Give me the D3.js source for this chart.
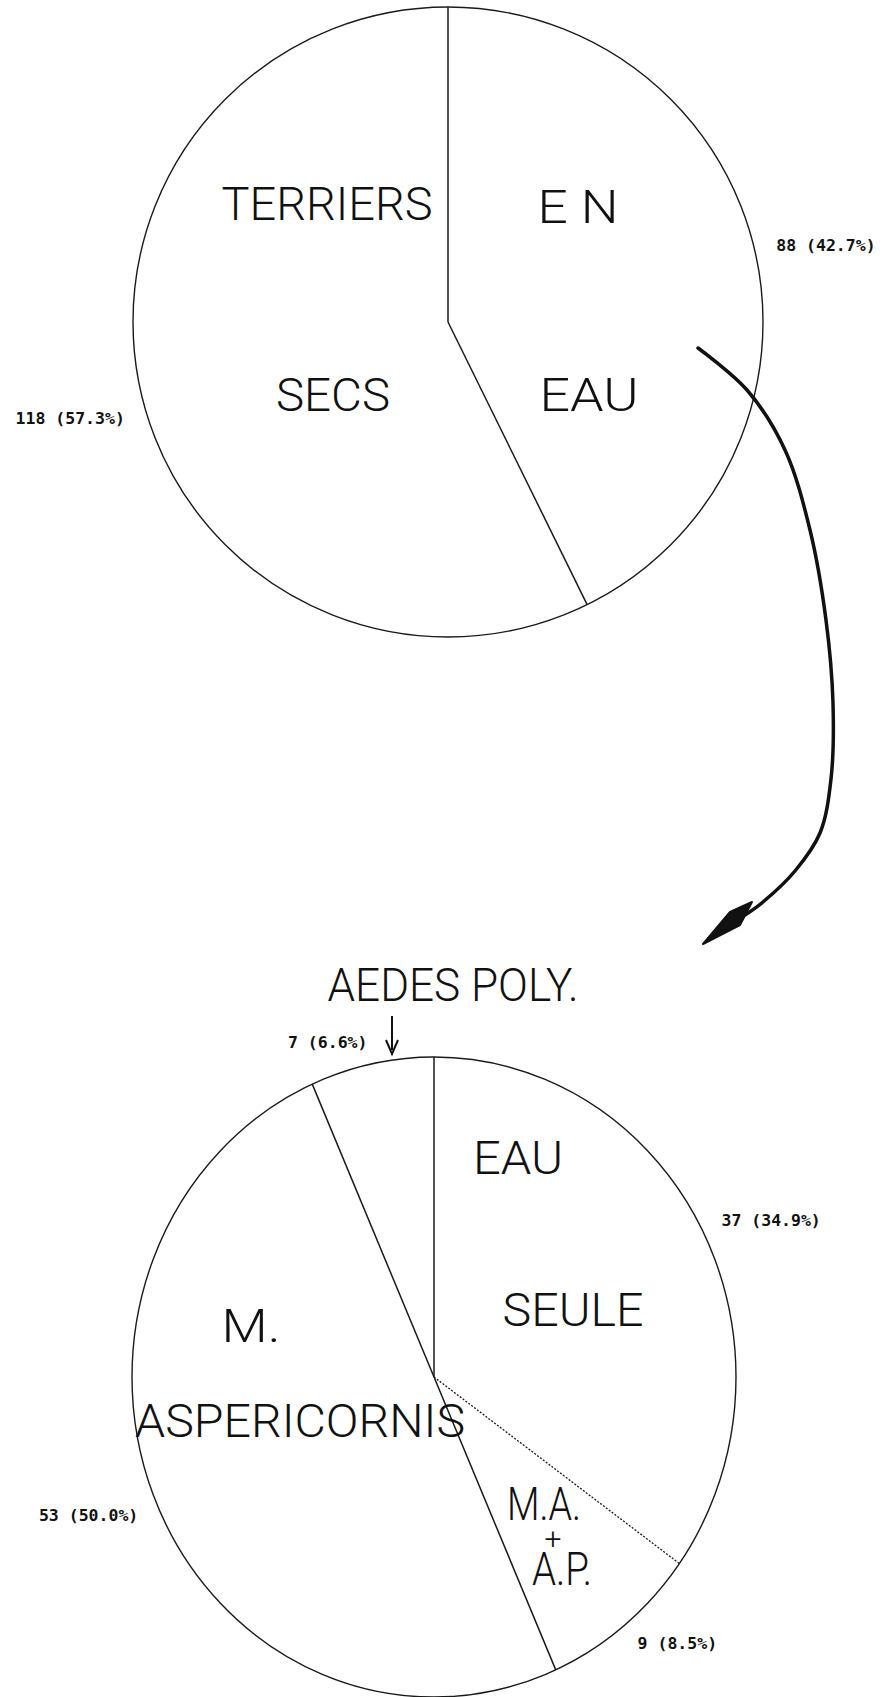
<!DOCTYPE html>
<html>
<head>
<meta charset="utf-8">
<script src="https://cdn.jsdelivr.net/npm/d3@7"></script>
<style>
  html, body { margin: 0; padding: 0; background: #fff; }
  svg { display: block; }
  .big { font-family: Roboto, "Liberation Sans", sans-serif; font-weight: 300; fill: #111; }
  .val { font-family: "DejaVu Sans Mono", monospace; font-weight: bold; font-size: 16.5px; fill: #111; }
</style>
</head>
<body>
<svg id="chart" width="882" height="1697"></svg>
<script>
// top pie : burrows with / without water
var topCategories = ['EN EAU', 'TERRIERS SECS'];
var topValues = [88, 118];

// bottom pie : what lives in the wet burrows
var bottomCategories = ['EAU SEULE', 'M.A. + A.P.', 'M. ASPERICORNIS', 'AEDES POLY.'];
var bottomValues = [37, 9, 53, 7];

var svg = d3.select('#chart');
var pct = d3.format('.1%');

// layout (pie centre, radii, where the words go)
var pies = [
  {
    cats: topCategories, vals: topValues,
    cx: 448, cy: 322, rx: 315, ry: 315,
    lines: [
      [ {t: 'E N', dx: 130, dy: -99, w: 81}, {t: 'EAU', dx: 141, dy: 89, w: 99} ],
      [ {t: 'TERRIERS', dx: -121, dy: -102, w: 211}, {t: 'SECS', dx: -115, dy: 89, w: 114} ]
    ],
    valAngle: [null, 253.5],
    dotted: []
  },
  {
    cats: bottomCategories, vals: bottomValues,
    cx: 434, cy: 1377, rx: 302, ry: 320,
    lines: [
      [ {t: 'EAU', dx: 84, dy: -203, w: 90}, {t: 'SEULE', dx: 139, dy: -51, w: 141} ],
      [ {t: 'M.A.', dx: 110, dy: 143, w: 74}, {t: '+', dx: 119, dy: 172, fs: 30}, {t: 'A.P.', dx: 128, dy: 208, w: 60} ],
      [ {t: 'M.', dx: -183, dy: -35, w: 59}, {t: 'ASPERICORNIS', dx: -134, dy: 60, w: 330} ],
      [ {t: 'AEDES POLY.', dx: 19, dy: -376, w: 251} ]
    ],
    valAngle: [null, null, null, null],
    dotted: [1]
  }
];

var pie = d3.pie().sort(null).value(function(d) { return d; });

pies.forEach(function(p) {
  var arcs = pie(p.vals);
  var g = svg.append('g').attr('transform', 'translate(' + p.cx + ',' + p.cy + ')');
  var sy = p.ry / p.rx;

  // slices, drawn on a circle then squashed to the ellipse of the scan
  var arc = d3.arc().innerRadius(0).outerRadius(p.rx);
  var sg = g.append('g').attr('transform', 'scale(1,' + sy + ')');
  sg.selectAll('path.slice')
    .data(arcs)
    .enter().append('path')
      .attr('class', 'slice')
      .attr('d', arc)
      .attr('fill', '#fff')
      .attr('stroke', 'none');

  // outline
  sg.append('path')
    .attr('d', arc({startAngle: 0, endAngle: 2 * Math.PI}))
    .attr('fill', 'none')
    .attr('stroke', '#1a1a1a')
    .attr('stroke-width', 1.4)
    .attr('vector-effect', 'non-scaling-stroke');

  // slice borders from the centre
  sg.selectAll('line.edge')
    .data(arcs)
    .enter().append('line')
      .attr('class', 'edge')
      .attr('x1', 0).attr('y1', 0)
      .attr('x2', function(d) { return Math.sin(d.startAngle) * p.rx; })
      .attr('y2', function(d) { return -Math.cos(d.startAngle) * p.rx; })
      .attr('stroke', '#1a1a1a')
      .attr('stroke-width', function(d, i) { return p.dotted.indexOf(i) >= 0 ? 1.3 : 1.5; })
      .attr('stroke-dasharray', function(d, i) { return p.dotted.indexOf(i) >= 0 ? '2,1.6' : null; })
      .attr('vector-effect', 'non-scaling-stroke');

  // words inside the slices, one text per slice
  arcs.forEach(function(d, i) {
    var t = g.append('text')
      .attr('class', 'big')
      .attr('text-anchor', 'middle')
      .attr('font-size', 46);
    p.lines[i].forEach(function(l) {
      var s = t.append('tspan')
        .attr('x', l.dx)
        .attr('y', l.dy)
        .text(l.t);
      if (l.fs) s.attr('font-size', l.fs);
      if (l.w) s.attr('textLength', l.w).attr('lengthAdjust', 'spacingAndGlyphs');
    });
  });

  // count (percent) outside
  var total = d3.sum(p.vals);
  arcs.forEach(function(d, i) {
    var a = (d.startAngle + d.endAngle) / 2, k = 1.07;
    if (p.valAngle[i] != null) a = p.valAngle[i] * Math.PI / 180;
    var x = Math.sin(a) * p.rx * k,
        y = -Math.cos(a) * p.ry * k;
    g.append('text')
      .attr('class', 'val')
      .attr('x', x)
      .attr('y', y)
      .attr('dy', '0.35em')
      .attr('text-anchor', x >= 0 ? 'start' : 'end')
      .text(d.data + ' (' + pct(d.data / total) + ')');
  });
});

// little arrow pointing at the AEDES slice
svg.append('line')
  .attr('x1', 392).attr('y1', 1016)
  .attr('x2', 392).attr('y2', 1050)
  .attr('stroke', '#111').attr('stroke-width', 2);
svg.append('path')
  .attr('d', 'M386,1040 L392,1054 L398,1040')
  .attr('fill', 'none').attr('stroke', '#111').attr('stroke-width', 2);

// big hand drawn arrow from "EN EAU" down to the second pie
var curve = [[698, 348], [747, 390], [785, 450], [810, 530], [826, 620], [833, 703], [831, 779], [820, 833], [795, 871], [763, 902], [745, 915]];
svg.append('path')
  .attr('d', d3.line().curve(d3.curveCatmullRom)(curve))
  .attr('fill', 'none')
  .attr('stroke', '#111')
  .attr('stroke-width', 3.5)
  .attr('stroke-linecap', 'round');
svg.append('path')
  .attr('d', 'M752,902 L740,925 L703,944 L730,912 Z')
  .attr('fill', '#111')
  .attr('stroke', '#111')
  .attr('stroke-width', 2)
  .attr('stroke-linejoin', 'round');
</script>
</body>
</html>
